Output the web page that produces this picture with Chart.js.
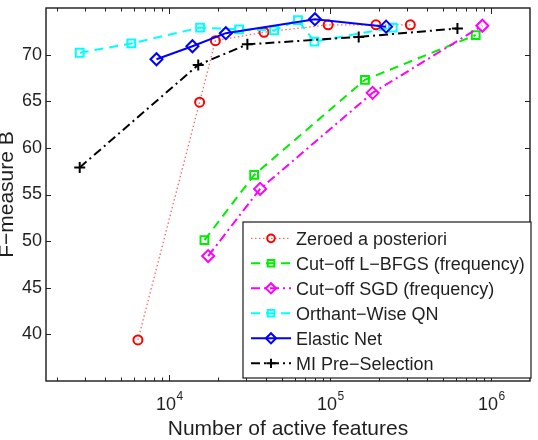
<!DOCTYPE html>
<html>
<head>
<meta charset="utf-8">
<script src="https://cdn.jsdelivr.net/npm/chart.js@4.4.0/dist/chart.umd.min.js"></script>
<style>
  body { margin: 0; background: #fff; }
  #wrap { width: 538px; height: 440px; }
</style>
</head>
<body>
<div id="wrap"><canvas id="chart" width="538" height="440"></canvas></div>
<script>
// values (x = number of active features, y = F-measure B)
const zeroedX = [6370, 15400, 19300, 38700, 96900, 192000, 314000];
const zeroedY = [39.4, 64.9, 71.5, 72.4, 73.2, 73.2, 73.2];

const lbfgsX = [16500, 33600, 164000, 800000];
const lbfgsY = [50.1, 57.1, 67.3, 72.1];

const sgdX = [17400, 36600, 183000, 880000];
const sgdY = [48.4, 55.6, 65.9, 73.1];

const owqnX = [2770, 5790, 15500, 27100, 44700, 62900, 79600, 244000];
const owqnY = [70.2, 71.2, 72.9, 72.7, 72.6, 73.7, 71.4, 72.9];

const elasticX = [8310, 13900, 22400, 80200, 222000];
const elasticY = [69.5, 70.9, 72.3, 73.8, 73.0];

const miX = [2770, 15100, 30500, 150000, 616000];
const miY = [57.9, 68.9, 71.1, 71.9, 72.8];

const seriesLabels = [
  "Zeroed a posteriori",
  "Cut\u2212off L\u2212BFGS (frequency)",
  "Cut\u2212off SGD (frequency)",
  "Orthant\u2212Wise QN",
  "Elastic Net",
  "MI Pre\u2212Selection",
];

const xTickValues = [1e4, 1e5, 1e6];
const yTickValues = [40, 45, 50, 55, 60, 65, 70];

const FONT = "'Liberation Sans', Arial, Helvetica, sans-serif";
const TEXT = "#1f1f1f";

function pts(xs, ys) {
  return xs.map((x, i) => ({ x: x, y: ys[i] }));
}

const styles = [
  { color: "#ff0000", line: "rgba(255,0,0,0.6)", width: 1.3, dash: [1.5, 2.5], point: "circle", radius: 4.5 },
  { color: "#00ee00", line: "#00ee00", width: 2, dash: [9, 6], point: "rect", radius: 5.5 },
  { color: "#ff00ff", line: "#ff00ff", width: 2, dash: [9, 4, 2, 4], point: "rectRot", radius: 6 },
  { color: "#00ffff", line: "#00ffff", width: 2, dash: [9, 6], point: "rect", radius: 5.5 },
  { color: "#0000ff", line: "#0000ff", width: 2, dash: [], point: "rectRot", radius: 6 },
  { color: "#000000", line: "#000000", width: 2, dash: [9, 4, 2, 4], point: "cross", radius: 5.5 },
];

const seriesData = [
  pts(zeroedX, zeroedY),
  pts(lbfgsX, lbfgsY),
  pts(sgdX, sgdY),
  pts(owqnX, owqnY),
  pts(elasticX, elasticY),
  pts(miX, miY),
];

const datasets = seriesLabels.map((label, i) => ({
  label: label,
  data: seriesData[i],
  borderColor: styles[i].line,
  backgroundColor: "rgba(0,0,0,0)",
  borderWidth: styles[i].width,
  borderDash: styles[i].dash,
  pointStyle: styles[i].point,
  pointRadius: styles[i].radius,
  pointBorderWidth: 2,
  pointBorderColor: styles[i].color,
  pointBackgroundColor: "rgba(0,0,0,0)",
  tension: 0,
  fill: false,
  order: 6 - i,
}));

// small marker drawer for the hand-made legend
function drawMarker(ctx, style, x, y, r) {
  ctx.beginPath();
  if (style === "circle") {
    ctx.arc(x, y, r, 0, Math.PI * 2);
  } else if (style === "rect") {
    const s = r * Math.SQRT1_2;
    ctx.rect(x - s, y - s, 2 * s, 2 * s);
  } else if (style === "rectRot") {
    ctx.moveTo(x - r, y);
    ctx.lineTo(x, y - r);
    ctx.lineTo(x + r, y);
    ctx.lineTo(x, y + r);
    ctx.closePath();
  } else if (style === "cross") {
    ctx.moveTo(x - r, y);
    ctx.lineTo(x + r, y);
    ctx.moveTo(x, y - r);
    ctx.lineTo(x, y + r);
  }
  ctx.stroke();
}

const framePlugin = {
  id: "frame",
  afterDatasetsDraw(chart) {
    const ctx = chart.ctx;
    const a = chart.chartArea;
    const xs = chart.scales.x;
    const ys = chart.scales.y;
    ctx.save();

    // inside tick marks (matlab style, all four sides)
    ctx.strokeStyle = "#222";
    ctx.lineWidth = 1;
    ctx.setLineDash([]);
    ctx.beginPath();
    for (let e = 3; e <= 6; e++) {
      for (let m = 1; m <= 9; m++) {
        const v = m * Math.pow(10, e);
        if (v <= xs.min || v >= xs.max) continue;
        const px = Math.round(xs.getPixelForValue(v)) + 0.5;
        const len = m === 1 ? 6 : 3.5;
        ctx.moveTo(px, a.bottom);
        ctx.lineTo(px, a.bottom - len);
        ctx.moveTo(px, a.top);
        ctx.lineTo(px, a.top + len);
      }
    }
    yTickValues.forEach((v) => {
      const py = Math.round(ys.getPixelForValue(v)) + 0.5;
      ctx.moveTo(a.left, py);
      ctx.lineTo(a.left + 5, py);
      ctx.moveTo(a.right, py);
      ctx.lineTo(a.right - 5, py);
    });
    ctx.stroke();

    // axes box
    ctx.lineWidth = 1.4;
    ctx.strokeStyle = "#1a1a1a";
    ctx.strokeRect(a.left, a.top, a.right - a.left, a.bottom - a.top);

    // x tick labels 10^n
    ctx.fillStyle = TEXT;
    ctx.textBaseline = "alphabetic";
    ctx.textAlign = "left";
    xTickValues.forEach((v) => {
      const px = xs.getPixelForValue(v);
      const exp = String(Math.round(Math.log10(v)));
      ctx.font = "18px " + FONT;
      const wBase = ctx.measureText("10").width;
      ctx.font = "12px " + FONT;
      const wExp = ctx.measureText(exp).width;
      const x0 = px - (wBase + wExp) / 2;
      ctx.font = "18px " + FONT;
      ctx.fillText("10", x0, 410);
      ctx.font = "12px " + FONT;
      ctx.fillText(exp, x0 + wBase + 0.5, 400);
    });

    // axis titles
    ctx.font = "21px " + FONT;
    ctx.textAlign = "center";
    ctx.fillText("Number of active features", (a.left + a.right) / 2, 434.5);
    ctx.save();
    ctx.translate(12.7, (a.top + a.bottom) / 2);
    ctx.rotate(-Math.PI / 2);
    ctx.fillText("F\u2212measure B", 0, 0);
    ctx.restore();

    // legend box in the lower right corner
    const lx = 243, ly = 222, lw = 288, lh = 156;
    ctx.fillStyle = "#fff";
    ctx.fillRect(lx, ly, lw, lh);
    ctx.lineWidth = 1.2;
    ctx.strokeStyle = "#1a1a1a";
    ctx.strokeRect(lx, ly, lw, lh);
    chart.data.datasets.forEach((ds, i) => {
      const st = styles[i];
      const y = 238.3 + i * 25;
      ctx.strokeStyle = st.line;
      ctx.lineWidth = st.width;
      ctx.setLineDash(st.dash);
      ctx.beginPath();
      ctx.moveTo(251, y);
      ctx.lineTo(291, y);
      ctx.stroke();
      ctx.setLineDash([]);
      ctx.strokeStyle = st.color;
      ctx.lineWidth = 2;
      drawMarker(ctx, st.point, 271, y, st.radius * 0.85);
      ctx.fillStyle = TEXT;
      ctx.font = "18px " + FONT;
      ctx.textAlign = "left";
      ctx.fillText(ds.label, 296, y + 6.5);
    });

    ctx.restore();
  },
};

const chart = new Chart(document.getElementById("chart"), {
  type: "line",
  data: { datasets: datasets },
  options: {
    responsive: false,
    animation: false,
    layout: { padding: { left: 0, top: 5, right: 6, bottom: 0 } },
    plugins: {
      legend: { display: false },
      tooltip: { enabled: false },
    },
    scales: {
      x: {
        type: "logarithmic",
        min: 1710,
        max: 1.74e6,
        grid: { display: false, drawTicks: false },
        border: { display: false },
        ticks: { display: false },
        afterFit: (s) => {
          s.height = 59;
          s.paddingLeft = 0;
          s.paddingRight = 0;
        },
      },
      y: {
        type: "linear",
        min: 35,
        max: 75,
        grid: { display: false, drawTicks: false },
        border: { display: false },
        ticks: {
          stepSize: 5,
          padding: 4,
          color: TEXT,
          font: { family: FONT, size: 18 },
          callback: (v) => (yTickValues.includes(v) ? String(v) : null),
        },
        afterFit: (s) => {
          s.width = 46;
          s.paddingTop = 0;
          s.paddingBottom = 0;
        },
      },
    },
  },
  plugins: [framePlugin],
});
</script>
</body>
</html>
